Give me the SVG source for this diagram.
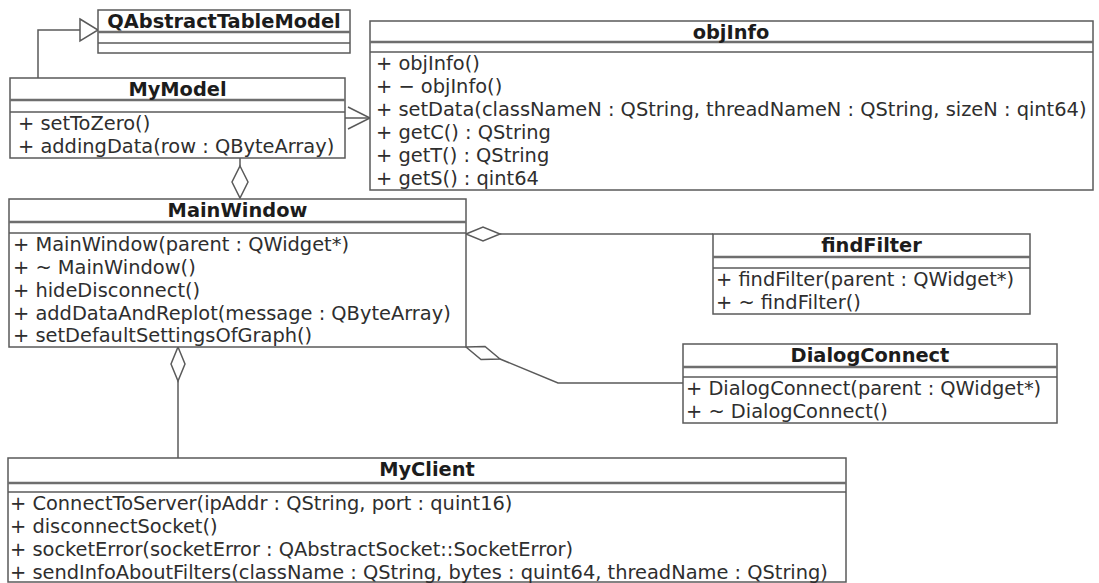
<svg xmlns="http://www.w3.org/2000/svg" width="1099" height="583" viewBox="0 0 1099 583">
<style>
.box{fill:#fff;stroke:#5a5a5a;stroke-width:1.5}
.sep{stroke:#6e6e6e;stroke-width:2.5}
.sep2{stroke:#5a5a5a;stroke-width:1.4}
.t{font-family:"DejaVu Sans","Noto Sans",sans-serif;font-size:19.4px;fill:#2e2e2e}
.ti{font-family:"DejaVu Sans","Noto Sans",sans-serif;font-size:19.4px;font-weight:bold;fill:#1c1c1c;text-anchor:middle}
.conn{stroke:#5a5a5a;stroke-width:1.5;fill:none}
.dia{fill:#fff;stroke:#5a5a5a;stroke-width:1.5}
</style>
<rect width="1099" height="583" fill="#fff"/>
<g id="connectors">
  <!-- generalization MyModel -> QAbstractTableModel -->
  <polyline class="conn" points="38,78 38,30 80,30"/>
  <polygon class="dia" points="80,19 98,30 80,41"/>
  <!-- association MyModel -> objInfo -->
  <line class="conn" x1="345" y1="118" x2="370" y2="118"/>
  <polyline class="conn" points="348,107 370,118 348,129"/>
  <!-- aggregation MainWindow <>- MyModel -->
  <line class="conn" x1="240" y1="158" x2="240" y2="166"/>
  <polygon class="dia" points="240,166 248,182 240,198 232,182"/>
  <!-- aggregation MainWindow <>- findFilter -->
  <line class="conn" x1="500" y1="234" x2="713" y2="234"/>
  <polygon class="dia" points="466,234 483,227 500,234 483,241"/>
  <!-- aggregation MainWindow <>- DialogConnect -->
  <polyline class="conn" points="500,359 558,383 683,383"/>
  <polygon class="dia" points="466,347 485,346.5 500,359 481,359.5"/>
  <!-- aggregation MainWindow <>- MyClient -->
  <line class="conn" x1="178" y1="381" x2="178" y2="458"/>
  <polygon class="dia" points="178,347 185,364 178,381 171,364"/>
</g>
<g id="QAbstractTableModel">
  <rect class="box" x="98" y="10" width="252" height="43"/>
  <line class="sep" x1="98" y1="32" x2="350" y2="32"/>
  <line class="sep2" x1="98" y1="43" x2="350" y2="43"/>
  <text class="ti" x="224" y="28">QAbstractTableModel</text>
</g>
<g id="MyModel">
  <rect class="box" x="10" y="78" width="335" height="80"/>
  <line class="sep" x1="10" y1="100" x2="345" y2="100"/>
  <line class="sep2" x1="10" y1="112" x2="345" y2="112"/>
  <text class="ti" x="177.5" y="96">MyModel</text>
  <text class="t" x="18" y="130">+ setToZero()</text>
  <text class="t" x="18" y="153">+ addingData(row : QByteArray)</text>
</g>
<g id="objInfo">
  <rect class="box" x="370" y="21" width="723" height="169"/>
  <line class="sep" x1="370" y1="42" x2="1093" y2="42"/>
  <line class="sep2" x1="370" y1="52" x2="1093" y2="52"/>
  <text class="ti" x="731" y="39">objInfo</text>
  <text class="t" x="376" y="70">+ objInfo()</text>
  <text class="t" x="376" y="93">+ − objInfo()</text>
  <text class="t" x="376" y="116">+ setData(classNameN : QString, threadNameN : QString, sizeN : qint64)</text>
  <text class="t" x="376" y="139">+ getC() : QString</text>
  <text class="t" x="376" y="162">+ getT() : QString</text>
  <text class="t" x="376" y="185">+ getS() : qint64</text>
</g>
<g id="MainWindow">
  <rect class="box" x="9" y="199" width="457" height="148"/>
  <line class="sep" x1="9" y1="222" x2="466" y2="222"/>
  <line class="sep2" x1="9" y1="233" x2="466" y2="233"/>
  <text class="ti" x="237.5" y="217">MainWindow</text>
  <text class="t" x="13" y="251">+ MainWindow(parent : QWidget*)</text>
  <text class="t" x="13" y="274">+ ~ MainWindow()</text>
  <text class="t" x="13" y="297">+ hideDisconnect()</text>
  <text class="t" x="13" y="320">+ addDataAndReplot(message : QByteArray)</text>
  <text class="t" x="13" y="342">+ setDefaultSettingsOfGraph()</text>
</g>
<g id="findFilter">
  <rect class="box" x="713" y="234" width="317" height="80"/>
  <line class="sep" x1="713" y1="257" x2="1030" y2="257"/>
  <line class="sep2" x1="713" y1="268" x2="1030" y2="268"/>
  <text class="ti" x="871.5" y="252">findFilter</text>
  <text class="t" x="716" y="286">+ findFilter(parent : QWidget*)</text>
  <text class="t" x="716" y="309">+ ~ findFilter()</text>
</g>
<g id="DialogConnect">
  <rect class="box" x="683" y="344" width="374" height="79"/>
  <line class="sep" x1="683" y1="367" x2="1057" y2="367"/>
  <line class="sep2" x1="683" y1="377" x2="1057" y2="377"/>
  <text class="ti" x="870" y="362">DialogConnect</text>
  <text class="t" x="686" y="395">+ DialogConnect(parent : QWidget*)</text>
  <text class="t" x="686" y="418">+ ~ DialogConnect()</text>
</g>
<g id="MyClient">
  <rect class="box" x="8" y="458" width="838" height="124"/>
  <line class="sep" x1="8" y1="483" x2="846" y2="483"/>
  <line class="sep2" x1="8" y1="492" x2="846" y2="492"/>
  <text class="ti" x="427" y="476">MyClient</text>
  <text class="t" x="10" y="510">+ ConnectToServer(ipAddr : QString, port : quint16)</text>
  <text class="t" x="10" y="533">+ disconnectSocket()</text>
  <text class="t" x="10" y="556">+ socketError(socketError : QAbstractSocket::SocketError)</text>
  <text class="t" x="10" y="579">+ sendInfoAboutFilters(className : QString, bytes : quint64, threadName : QString)</text>
</g>
</svg>
